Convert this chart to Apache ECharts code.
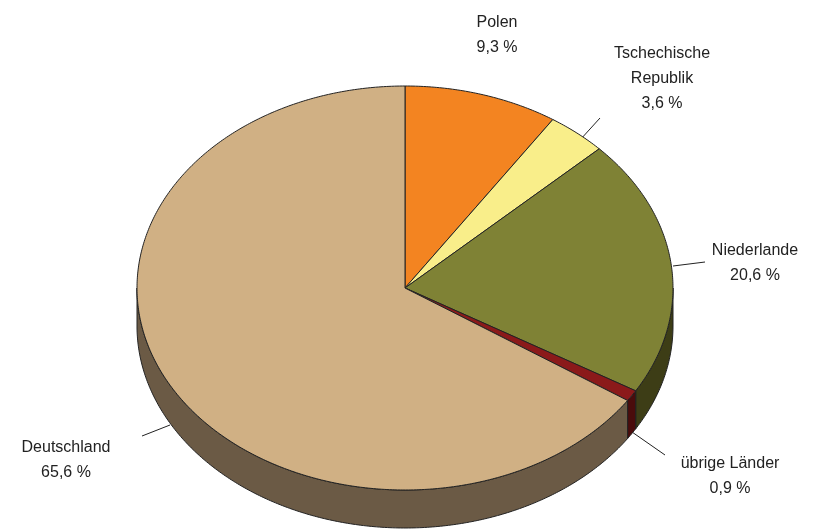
<!DOCTYPE html>
<html><head><meta charset="utf-8">
<script src="https://cdn.jsdelivr.net/npm/echarts@6/dist/echarts.min.js"></script>
<style>html,body{margin:0;background:#fff}#main{width:829px;height:530px}</style>
</head><body><div id="main"></div>
<script>
// Anteile in Prozent, im Uhrzeigersinn ab 12 Uhr
var names = ['Polen', 'Tschechische Republik', 'Niederlande', 'übrige Länder', 'Deutschland'];
var values = [9.3, 3.6, 20.6, 0.9, 65.6];
var topColors = ['#f38421', '#f9ee8a', '#7f8235', '#8b1a1a', '#d0b084'];
var sideColors = ['#a0560f', '#a89d50', '#3d3d16', '#4a0c0c', '#6b5a45'];

var cx = 405, cy = 288, rx = 268, ry = 202, depth = 38;
var total = values.reduce(function (a, b) { return a + b; }, 0);
var cum = [0];
values.forEach(function (v, i) { cum.push(cum[i] + v); });

function pt(t, dy) {
    return [cx + rx * Math.sin(t), cy - ry * Math.cos(t) + (dy || 0)];
}
function arc(a, b, dy) {
    var pts = [], n = Math.max(2, Math.ceil((b - a) / 0.01));
    for (var k = 0; k <= n; k++) pts.push(pt(a + (b - a) * k / n, dy));
    return pts;
}

function renderItem(params, api) {
    var i = params.dataIndex;
    var a = cum[i] / total * 2 * Math.PI, b = cum[i + 1] / total * 2 * Math.PI;
    var children = [];
    // Seitenwand nur im vorderen Bereich
    var sa = Math.max(a, Math.PI / 2), sb = Math.min(b, 3 * Math.PI / 2);
    if (sb > sa) {
        var side = arc(sa, sb, 0).concat(arc(sa, sb, depth).reverse());
        children.push({type: 'polygon', shape: {points: side},
            style: {fill: sideColors[i], stroke: '#222', lineWidth: 1}});
    }
    var top = [[cx, cy]].concat(arc(a, b, 0));
    children.push({type: 'polygon', shape: {points: top},
        style: {fill: topColors[i], stroke: '#222', lineWidth: 1}});
    return {type: 'group', children: children};
}

// Beschriftungen
var labelText = ['Polen\n9,3 %', 'Tschechische\nRepublik\n3,6 %', 'Niederlande\n20,6 %', 'übrige Länder\n0,9 %', 'Deutschland\n65,6 %'];
var labelPos = [[497, 10], [662, 41], [755, 238], [730, 451], [66, 435]];
var leaders = [null, [[580, 140], [600, 118]], [[673, 266], [705, 262]], [[632, 432], [665, 455]], [[142, 436], [170, 425]]];

var graphics = [];
labelText.forEach(function (t, i) {
    graphics.push({type: 'text', left: labelPos[i][0], top: labelPos[i][1],
        style: {text: t, x: 0, y: 0, align: 'center', fill: '#222',
            font: '16px "Liberation Sans", Arial, sans-serif', lineHeight: 25}});
    if (leaders[i]) graphics.push({type: 'polyline', shape: {points: leaders[i]},
        style: {stroke: '#222', lineWidth: 1}});
});
// 'left' positions the box edge; use x instead for centred text
graphics = graphics.map(function (g) {
    if (g.type === 'text') { g.x = g.left; g.y = g.top; delete g.left; delete g.top; }
    return g;
});

var chart = echarts.init(document.getElementById('main'));
chart.setOption({
    animation: false,
    series: [{
        type: 'custom',
        coordinateSystem: 'none',
        renderItem: renderItem,
        data: values.map(function (v, i) { return {name: names[i], value: v}; })
    }],
    graphic: graphics
});
</script></body></html>
